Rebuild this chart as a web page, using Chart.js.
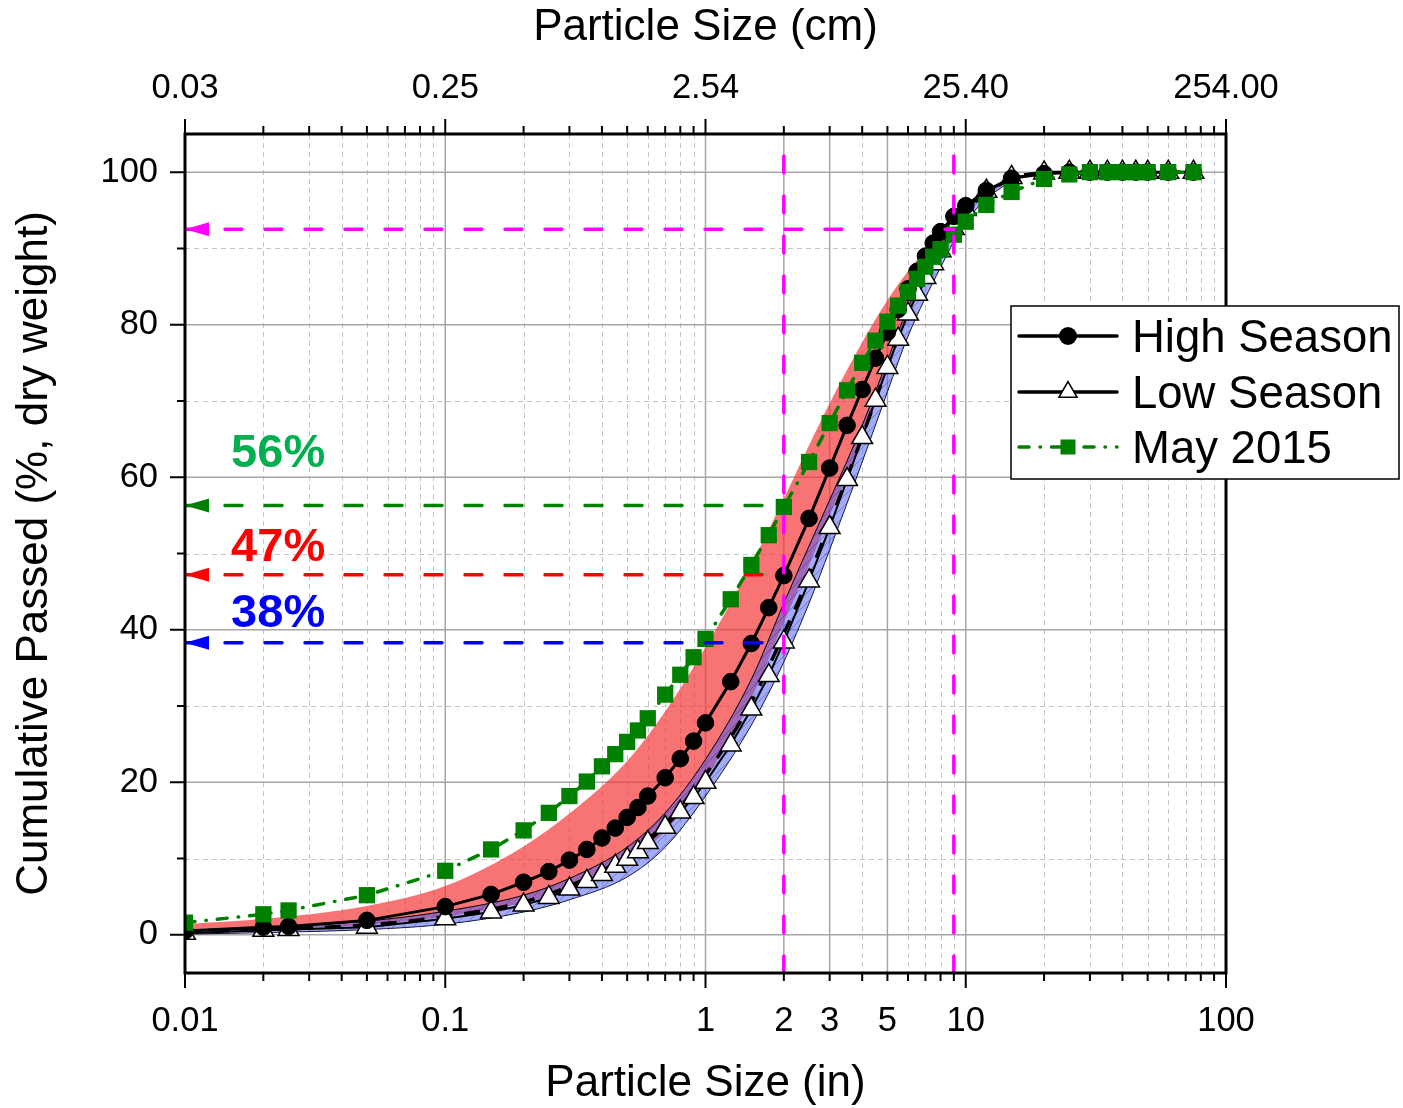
<!DOCTYPE html>
<html>
<head>
<meta charset="utf-8">
<script src="https://cdn.jsdelivr.net/npm/chart.js@4.4.1/dist/chart.umd.min.js"></script>
<style>
  html, body { margin: 0; padding: 0; background: #fff; }
  canvas { display: block; }
</style>
</head>
<body>
<canvas id="grafico" width="1403" height="1108"></canvas>
<script>
// SIEVE SIZES (INCHES) AND MEASURED CURVES
const sizes = [0.01, 0.02, 0.025, 0.05, 0.1, 0.15, 0.2, 0.25, 0.3, 0.35, 0.4, 0.45, 0.5, 0.55, 0.6,
    0.7, 0.8, 0.9, 1, 1.25, 1.5, 1.75, 2, 2.5, 3, 3.5, 4, 4.5, 5, 5.5, 6, 6.5, 7, 7.5, 8, 9,
    10, 12, 15, 20, 25, 30, 35, 40, 45, 50, 60, 75];
const highSeason = [0.5, 1.0, 1.1, 1.9, 3.7, 5.3, 6.9, 8.3, 9.8, 11.2, 12.7, 14.0, 15.4, 16.7, 18.2,
    20.6, 23.1, 25.4, 27.8, 33.2, 38.2, 42.9, 47.1, 54.6, 61.2, 66.8, 71.5, 75.6, 79.0, 82.0, 84.7, 87.0, 89.0, 90.7, 92.2, 94.2,
    95.6, 97.6, 99.2, 99.8, 100, 100, 100, 100, 100, 100, 100, 100];
const lowSeason = [0.2, 0.6, 0.7, 1.0, 2.1, 3.0, 3.9, 4.9, 6.0, 7.0, 7.9, 9.0, 9.9, 10.9, 12.1,
    14.1, 16.1, 18.0, 20.0, 24.9, 29.6, 34.0, 38.4, 46.4, 53.4, 59.7, 65.2, 70.1, 74.4, 78.1, 81.4, 84.0, 86.2, 88.0, 89.7, 92.6,
    95.1, 97.5, 99.3, 99.9, 100, 100, 100, 100, 100, 100, 100, 100];
const may2015 = [1.6, 2.7, 3.2, 5.2, 8.4, 11.2, 13.7, 16.0, 18.2, 20.1, 22.1, 23.7, 25.3, 26.8, 28.4,
    31.5, 34.1, 36.4, 38.8, 44.0, 48.5, 52.4, 56.1, 62.0, 67.1, 71.4, 75.0, 77.9, 80.4, 82.5, 84.3, 86.0, 87.6, 88.9, 89.9, 91.8,
    93.5, 95.7, 97.4, 99.1, 99.7, 100, 100, 100, 100, 100, 100, 100];

// ENVELOPES (SHADED RANGES) AND DASHED CURVE
const bandSizes = [0.01, 0.02, 0.05, 0.1, 0.2, 0.3, 0.5, 0.7, 1, 1.5, 2, 2.5, 3, 4, 5, 6, 8, 10, 15, 20, 30, 75];
const redUpper  = [1.4, 2.1, 3.8, 6.4, 11.6, 15.9, 22.8, 29.3, 37.7, 48.6, 57.2, 64.2, 69.7, 77.7, 83.2, 87.0, 91.9, 95.4, 98.9, 99.8, 100, 100];
const redLower  = [0.4, 0.7, 1.3, 2.4, 4.2, 6.0, 9.6, 13.6, 20.5, 31.0, 41.0, 48.5, 55.0, 65.2, 74.2, 81.3, 89.7, 94.6, 98.9, 99.9, 100, 100];
const blueUpper = [0.6, 1.0, 1.8, 3.1, 5.2, 7.4, 11.5, 16.0, 23.0, 33.5, 43.5, 51.0, 57.0, 66.8, 75.3, 82.2, 90.3, 95.0, 99.0, 99.9, 100, 100];
const blueLower = [0.1, 0.3, 0.7, 1.4, 3.0, 4.6, 7.6, 11.5, 18.2, 27.5, 35.8, 43.5, 50.5, 62.0, 71.2, 78.5, 87.5, 93.5, 98.8, 99.8, 100, 100];
const dashedFit = [0.4, 0.7, 1.3, 2.4, 4.3, 6.4, 10.4, 14.6, 21.0, 30.5, 39.5, 47.0, 54.0, 65.3, 74.5, 81.6, 89.5, 94.8, 99.1, 99.9, 100, 100];

// REFERENCE LINES
const refSizes = [2, 9];               // VERTICAL MAGENTA LINES
const refMagentaLevel = 92.5;           // HORIZONTAL MAGENTA LINE
const refLevels = [56.3, 47.2, 38.3];   // GREEN, RED, BLUE LEVELS
const refLabels = ['56%', '47%', '38%'];
const refLabelY = [63.0, 50.7, 42.1];
const refLabelX = 0.0228;

// AXES
const xLabelTicks = [0.01, 0.1, 1, 2, 3, 5, 10, 100];
const decades = [0.01, 0.1, 1, 10, 100];
const yLabelTicks = [0, 20, 40, 60, 80, 100];
const yRange = [-5, 105];

// STYLE
const GREEN = '#008000';
const refColors = ['#008000', '#ff0000', '#0000ff'];
const labelColors = ['#00b050', '#ff0000', '#0000ff'];
const FONT = '"Liberation Sans", Arial, sans-serif';
Chart.defaults.font.family = FONT;
Chart.defaults.color = '#000';

const pts = (xs, ys) => xs.map((x, i) => ({ x: x, y: ys[i] }));

// ALL MINOR/MAJOR POSITIONS OF THE LOG AXIS
const xAllTicks = [];
[-2, -1, 0, 1].forEach(e => {
    for (let k = 1; k <= 9; k++) xAllTicks.push(+(k * Math.pow(10, e)).toPrecision(4));
});
xAllTicks.push(100);
const xSolidGrid = [0.1, 1, 2, 3, 5, 10];

// HATCHED BLUE FILL
function makeHatch() {
    const c = document.createElement('canvas');
    c.width = 10; c.height = 10;
    const g = c.getContext('2d');
    g.fillStyle = 'rgba(70,90,245,0.5)';
    g.fillRect(0, 0, 10, 10);
    g.strokeStyle = 'rgba(30,30,110,0.45)';
    g.lineWidth = 0.8;
    g.beginPath();
    g.moveTo(0, 10); g.lineTo(10, 0);
    g.moveTo(-5, 5); g.lineTo(5, -5);
    g.moveTo(5, 15); g.lineTo(15, 5);
    g.stroke();
    return g.createPattern(c, 'repeat');
}

// REFERENCE DATASETS
const refDatasets = [];
refSizes.forEach(v => refDatasets.push({
    data: pts([v, v], yRange), borderColor: '#ff00ff', borderWidth: 3.5,
    borderDash: [17, 23], borderCapStyle: 'round', pointRadius: 0, order: 0
}));
refDatasets.push({
    data: pts([0.01, refSizes[1]], [refMagentaLevel, refMagentaLevel]), arrow: '#ff00ff',
    borderColor: '#ff00ff', borderWidth: 3.5, borderDash: [17, 23], borderCapStyle: 'round', pointRadius: 0, order: 0
});
refLevels.forEach((lv, i) => refDatasets.push({
    data: pts([0.01, refSizes[0]], [lv, lv]), arrow: refColors[i],
    borderColor: refColors[i], borderWidth: 3.5, borderDash: [17, 23], borderCapStyle: 'round', pointRadius: 0, order: 0
}));

// BACKGROUND
const whiteBg = {
    id: 'whiteBg',
    beforeDraw(chart) {
        const { ctx, width, height } = chart;
        ctx.save();
        ctx.fillStyle = '#fff';
        ctx.fillRect(0, 0, width, height);
        ctx.restore();
    }
};

// GRID LINES (SOLID MAJOR, DASHED MINOR)
const gridLines = {
    id: 'gridLines',
    beforeDatasetsDraw(chart) {
        const { ctx, chartArea: a, scales: { x, y } } = chart;
        ctx.save();
        ctx.lineWidth = 1;
        ctx.strokeStyle = '#c4c4c4';
        ctx.setLineDash([5, 4]);
        ctx.beginPath();
        xAllTicks.forEach(v => {
            if (decades.includes(v) || xSolidGrid.includes(v)) return;
            const px = Math.round(x.getPixelForValue(v)) + 0.5;
            ctx.moveTo(px, a.top); ctx.lineTo(px, a.bottom);
        });
        for (let v = 10; v <= 90; v += 20) {
            const py = Math.round(y.getPixelForValue(v)) + 0.5;
            ctx.moveTo(a.left, py); ctx.lineTo(a.right, py);
        }
        ctx.stroke();
        ctx.setLineDash([]);
        ctx.strokeStyle = '#a6a6a6';
        ctx.lineWidth = 1.5;
        ctx.beginPath();
        xSolidGrid.forEach(v => {
            const px = x.getPixelForValue(v);
            ctx.moveTo(px, a.top); ctx.lineTo(px, a.bottom);
        });
        yLabelTicks.forEach(v => {
            const py = y.getPixelForValue(v);
            ctx.moveTo(a.left, py); ctx.lineTo(a.right, py);
        });
        ctx.stroke();
        ctx.restore();
    }
};

// FRAME AND TICK MARKS
const frameTicks = {
    id: 'frameTicks',
    afterDatasetsDraw(chart) {
        const { ctx, chartArea: a, scales: { x, y } } = chart;
        ctx.save();
        ctx.strokeStyle = '#000';
        ctx.lineWidth = 2;
        ctx.beginPath();
        xAllTicks.forEach(v => {
            const px = x.getPixelForValue(v);
            const len = decades.includes(v) ? 15 : 8;
            ctx.moveTo(px, a.bottom); ctx.lineTo(px, a.bottom + len);
            ctx.moveTo(px, a.top); ctx.lineTo(px, a.top - len);
        });
        for (let v = 0; v <= 100; v += 10) {
            const py = y.getPixelForValue(v);
            const len = v % 20 === 0 ? 15 : 8;
            ctx.moveTo(a.left, py); ctx.lineTo(a.left - len, py);
        }
        ctx.stroke();
        ctx.lineWidth = 3;
        ctx.strokeRect(a.left, a.top, a.right - a.left, a.bottom - a.top);
        ctx.restore();
    }
};

// ARROW HEADS, PERCENT LABELS AND LEGEND
function drawMarker(ctx, kind, cx, cy, r) {
    ctx.beginPath();
    if (kind === 'circle') {
        ctx.arc(cx, cy, r, 0, Math.PI * 2);
        ctx.fillStyle = '#000'; ctx.fill();
    } else if (kind === 'triangle') {
        for (let k = 0; k < 3; k++) {
            const ang = k * 2 * Math.PI / 3;
            const px = cx + Math.sin(ang) * r, py = cy - Math.cos(ang) * r;
            k === 0 ? ctx.moveTo(px, py) : ctx.lineTo(px, py);
        }
        ctx.closePath();
        ctx.fillStyle = '#fff'; ctx.fill();
        ctx.lineWidth = 1.5; ctx.strokeStyle = '#000'; ctx.setLineDash([]); ctx.stroke();
    } else {
        ctx.fillStyle = GREEN;
        ctx.fillRect(cx - r, cy - r, 2 * r, 2 * r);
    }
}

const overlays = {
    id: 'overlays',
    afterDraw(chart) {
        const { ctx, chartArea: a, scales: { x, y } } = chart;
        ctx.save();

        // ARROW HEADS AT THE LEFT END OF THE HORIZONTAL LINES
        chart.data.datasets.forEach((ds, i) => {
            if (!ds.arrow) return;
            const p = chart.getDatasetMeta(i).data[0];
            ctx.beginPath();
            ctx.moveTo(p.x, p.y);
            ctx.lineTo(p.x + 24, p.y - 7);
            ctx.lineTo(p.x + 24, p.y + 7);
            ctx.closePath();
            ctx.fillStyle = ds.arrow;
            ctx.fill();
        });

        // PERCENT LABELS
        ctx.font = 'bold 47px ' + FONT;
        ctx.textAlign = 'center';
        ctx.textBaseline = 'middle';
        refLabels.forEach((t, i) => {
            ctx.fillStyle = labelColors[i];
            ctx.fillText(t, x.getPixelForValue(refLabelX), y.getPixelForValue(refLabelY[i]));
        });

        // LEGEND
        const left = a.right - 215, top = a.top + 172, w = 388, h = 173;
        ctx.fillStyle = '#fff';
        ctx.fillRect(left, top, w, h);
        ctx.lineWidth = 1.5;
        ctx.strokeStyle = '#000';
        ctx.strokeRect(left, top, w, h);
        const rows = [
            { text: 'High Season', y: 30, color: '#000', dash: [], marker: 'circle', r: 9 },
            { text: 'Low Season', y: 86, color: '#000', dash: [], marker: 'triangle', r: 10.5 },
            { text: 'May 2015', y: 141, color: GREEN, dash: [10, 11, 0.5, 11], marker: 'rect', r: 7.5 }
        ];
        rows.forEach(row => {
            const ly = top + row.y;
            ctx.beginPath();
            ctx.strokeStyle = row.color;
            ctx.lineWidth = 3.5;
            ctx.lineCap = 'round';
            ctx.setLineDash(row.dash);
            ctx.moveTo(left + 8, ly); ctx.lineTo(left + 106, ly);
            ctx.stroke();
            ctx.setLineDash([]);
            ctx.lineCap = 'butt';
            drawMarker(ctx, row.marker, left + 57, ly, row.r);
            ctx.fillStyle = '#000';
            ctx.font = '45.5px ' + FONT;
            ctx.textAlign = 'left';
            ctx.textBaseline = 'alphabetic';
            ctx.fillText(row.text, left + 121, ly + 16);
        });
        ctx.restore();
    }
};

const ctx = document.getElementById('grafico');

new Chart(ctx, {
    type: 'line',
    data: {
        datasets: refDatasets.concat([
            {
                label: 'May 2015', data: pts(sizes, may2015), borderColor: GREEN, borderWidth: 3.5,
                borderDash: [10, 11, 0.5, 11], borderCapStyle: 'round', tension: 0,
                pointStyle: 'rect', pointRadius: 11.5, pointBackgroundColor: GREEN, pointBorderColor: GREEN,
                pointBorderWidth: 0, order: 1
            },
            {
                label: 'High Season', data: pts(sizes, highSeason), borderColor: '#000', borderWidth: 3,
                tension: 0, pointStyle: 'circle', pointRadius: 8.3, pointBackgroundColor: '#000',
                pointBorderColor: '#000', pointBorderWidth: 1, order: 2
            },
            {
                label: 'Low Season', data: pts(sizes, lowSeason), borderColor: '#000', borderWidth: 2,
                tension: 0, pointStyle: 'triangle', pointRadius: 12, pointBackgroundColor: '#fff',
                pointBorderColor: '#000', pointBorderWidth: 1.5, order: 3
            },
            {
                label: 'fit', data: pts(bandSizes, dashedFit), borderColor: '#000', borderWidth: 3.5,
                borderDash: [16, 12], cubicInterpolationMode: 'monotone', pointRadius: 0, order: 4
            },
            {
                label: 'blue upper', data: pts(bandSizes, blueUpper), borderColor: '#000', borderWidth: 1,
                backgroundColor: makeHatch(), fill: '+1', cubicInterpolationMode: 'monotone', pointRadius: 0, order: 5
            },
            {
                label: 'blue lower', data: pts(bandSizes, blueLower), borderColor: '#000', borderWidth: 1,
                fill: false, cubicInterpolationMode: 'monotone', pointRadius: 0, order: 6
            },
            {
                label: 'red upper', data: pts(bandSizes, redUpper), borderWidth: 0,
                backgroundColor: 'rgba(245,50,50,0.68)', fill: '+1', cubicInterpolationMode: 'monotone', pointRadius: 0, order: 7
            },
            {
                label: 'red lower', data: pts(bandSizes, redLower), borderWidth: 0,
                fill: false, cubicInterpolationMode: 'monotone', pointRadius: 0, order: 8
            }
        ])
    },
    options: {
        responsive: false,
        animation: false,
        devicePixelRatio: 1,
        events: [],
        layout: { padding: { right: 177 } },
        plugins: {
            legend: { display: false },
            tooltip: { enabled: false }
        },
        scales: {
            x: {
                type: 'logarithmic', position: 'bottom', min: 0.01, max: 100,
                grid: { display: false, drawTicks: false }, border: { display: false },
                afterBuildTicks: s => { s.ticks = xLabelTicks.map(v => ({ value: v })); },
                afterFit: s => { s.height = 135; },
                ticks: { autoSkip: false, maxRotation: 0, padding: 27.5, font: { size: 34.5 }, callback: v => String(v) },
                title: { display: true, text: 'Particle Size (in)', font: { size: 44, lineHeight: 1.1 }, padding: 0 }
            },
            x2: {
                type: 'logarithmic', axis: 'x', position: 'top', min: 0.01, max: 100,
                grid: { display: false, drawTicks: false }, border: { display: false },
                afterBuildTicks: s => { s.ticks = decades.map(v => ({ value: v })); },
                afterFit: s => { s.height = 134; },
                ticks: { autoSkip: false, maxRotation: 0, padding: 24.5, font: { size: 34.5 }, callback: v => (v * 2.54).toFixed(2) },
                title: { display: true, text: 'Particle Size (cm)', font: { size: 44, lineHeight: 1.1 }, padding: { top: 4, bottom: 0 } }
            },
            y: {
                type: 'linear', position: 'left', min: yRange[0], max: yRange[1],
                grid: { display: false, drawTicks: false }, border: { display: false },
                afterBuildTicks: s => { s.ticks = yLabelTicks.map(v => ({ value: v })); },
                afterFit: s => { s.width = 185; },
                ticks: { padding: 27, font: { size: 34.5 } },
                title: { display: true, text: 'Cumulative Passed (%, dry weight)', font: { size: 44, lineHeight: 1.1 }, padding: { top: 11, bottom: 0 } }
            }
        }
    },
    plugins: [whiteBg, gridLines, frameTicks, overlays]
});
</script>
</body>
</html>
